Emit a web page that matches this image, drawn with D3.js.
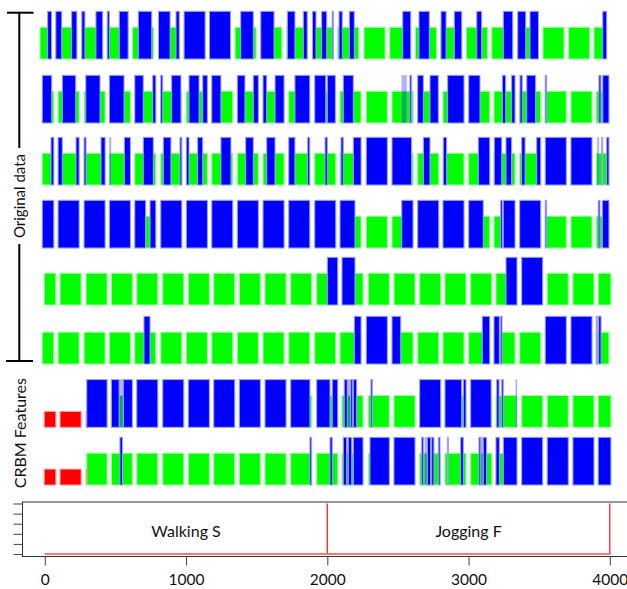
<!DOCTYPE html>
<html>
<head>
<meta charset="utf-8">
<script src="https://cdn.jsdelivr.net/npm/d3@7"></script>
<style>
  body { margin: 0; background: #fff; }
  text { font-family: Lato, "Open Sans", sans-serif; fill: #111; }
</style>
</head>
<body>
<svg id="chart" width="627" height="589"></svg>
<script>
// Recording windows in sample units (each row is the same window pattern, slightly shifted)
const windows = [[-4,78],[108,257],[292,441],[471,620],[651,800],[835,984],[1016,1165],[1196,1345],
  [1377,1526],[1559,1708],[1741,1890],[1925,2074],[2104,2253],[2290,2439],[2472,2621],[2654,2803],
  [2833,2982],[3015,3164],[3194,3343],[3376,3525],[3557,3706],[3739,3888],[3918,4008]];

// Per-row offset of the window pattern (samples)
const rowShift = [-30, -14, -14, -14, 0, -14, 0, 0];

// Row groups: six original data channels, two CRBM feature channels
const originalRows = [0, 1, 2, 3, 4, 5];
const featureRows = [6, 7];

// Spans where the state is at level 1 (red)
const redSpans = [[], [], [], [], [], [], [[-10,297]], [[-10,297]]];

// Spans where the state is at level 3 (blue); everything else inside a window is level 2 (green)
const blueSpans = [
  [[20,49],[77,120],[190,230],[261,284],[362,410],[442,457],[527,591],[662,757],[804,887],[929,952],
   [980,1140],[1165,1320],[1387,1476],[1529,1623],[1717,1771],[1830,1858],[1894,1920],[1960,1996],
   [2035,2047],[2083,2106],[2156,2191],[2534,2600],[2649,2722],[2805,2841],[2899,2960],[3058,3093],
   [3246,3315],[3348,3405],[3435,3499],[3950,3990]],
  [[-18,49],[124,219],[290,391],[457,561],[634,697],[764,790],[816,835],[898,964],[1021,1092],
   [1118,1151],[1182,1247],[1363,1417],[1476,1512],[1545,1571],[1630,1696],[1771,1880],[1911,1989],
   [2000,2057],[2113,2184],[2585,2597],[2637,2680],[2727,2786],[2852,2975],[3001,3081],
   [3239,3263],[3305,3329],[3364,3380],[3412,3475],[3543,3553],[3923,3937],[3950,3994]],
  [[44,64],[91,124],[221,243],[273,292],[398,427],[563,606],[697,768],[839,893],[957,970],
   [1002,1021],[1082,1118],[1247,1318],[1422,1476],[1571,1630],[1727,1771],[1861,1877],[1984,2000],
   [2097,2113],[2184,2239],[2270,2430],[2456,2597],[2680,2727],[2821,2845],[3069,3152],[3182,3235],
   [3265,3305],[3376,3400],[3482,3513],[3540,3700],[3720,3880],[3943,3950],[3978,3994]],
  [[-18,714],[745,2196],[2527,2610],[2630,2800],[2815,2975],[3001,3104],[3227,3239],[3246,3329],
   [3355,3520],[3543,3553],[3918,3930],[3947,3994]],
  [[2000,2074],[2104,2196],[3265,3345],[3376,3525]],
  [[702,745],[2191,2239],[2270,2430],[2449,2520],[3097,3150],[3175,3218],[3227,3237],[3540,3700],
   [3718,3880],[3900,3911],[3921,3938]],
  [[297,441],[469,526],[556,622],[640,1877],[1925,2019],[2035,2074],[2120,2141],[2166,2180],[2184,2208],
   [2309,2319],[2653,2803],[2833,2951],[2963,2985],[3015,3160],[3199,3216],[3235,3246]],
  [[532,550],[1877,1889],[2019,2035],[2113,2137],[2149,2173],[2184,2255],[2302,2439],[2470,2625],
   [2668,2680],[2708,2732],[2739,2755],[2786,2798],[2850,2857],[2944,2963],[3074,3086],[3104,3128],
   [3194,3218],[3246,4010]]
];

// Spans that flicker between levels 2 and 3 (drawn as a faint level-3 mark)
const mixedSpans = [
  [], [[2527,2562]], [[457,469],[3911,3923]], [], [], [],
  [[526,556],[2141,2166],[3334,3345]],
  [[2137,2149],[2690,2708],[3086,3104]]
];

// Activity label track
const xTicks = [0, 1000, 2000, 3000, 4000];
const yTicks = [1, 2, 3, 4, 5, 6];
const activities = [{ name: "Walking S", from: 0, to: 2000 }, { name: "Jogging F", from: 2000, to: 4000 }];
const labelTrace = [[0,1],[2000,1],[2000,6],[2000,1],[4000,1],[4000,6]];

// ---- layout ----
const rowBottom = [59, 123, 185, 248, 305, 364, 427.3, 485];
const levelHeight = 15.9;
const levelColor = { 1: "#ff0000", 2: "#00ff00", 3: "#0000ff" };
const haloColor = { 1: "#ff9a9a", 2: "#a0ffa0", 3: "#a0a0ff" };

const svg = d3.select("#chart");
const x = d3.scaleLinear().domain([0, 4000]).range([44.8, 609.8]);

function intersect(spans, wins) {
  const out = [];
  spans.forEach(([a, b]) => wins.forEach(([c, d]) => {
    const lo = Math.max(a, c), hi = Math.min(b, d);
    if (hi > lo) out.push([lo, hi]);
  }));
  return out;
}
function subtract(wins, spans) {
  const out = [];
  wins.forEach(([c, d]) => {
    let pieces = [[c, d]];
    spans.forEach(([a, b]) => {
      pieces = pieces.flatMap(([p, q]) => {
        const r = [];
        if (a > p) r.push([p, Math.min(q, a)]);
        if (b < q) r.push([Math.max(p, b), q]);
        return r.filter(([u, v]) => v > u);
      });
    });
    out.push(...pieces);
  });
  return out;
}

const rowsG = svg.append("g").attr("class", "rows");
blueSpans.forEach((blue, i) => {
  const bottom = rowBottom[i];
  const y = d3.scaleLinear().domain([0, 3]).range([bottom, bottom - 3 * levelHeight]);
  const wins = windows.map(([a, b]) => [a + rowShift[i], b + rowShift[i]]);
  const pieces = [
    ...subtract(wins, redSpans[i]).map(s => ({ s, level: 2, op: 1 })),
    ...intersect(redSpans[i], wins).map(s => ({ s, level: 1, op: 1 })),
    ...intersect(mixedSpans[i], wins).map(s => ({ s, level: 3, op: 0.3 })),
    ...intersect(blue, wins).map(s => ({ s, level: 3, op: 1 }))
  ];
  rowsG.append("g").selectAll("rect").data(pieces).join("rect")
    .attr("x", d => x(d.s[0]))
    .attr("width", d => Math.max(0.6, x(d.s[1]) - x(d.s[0])))
    .attr("y", d => y(d.level))
    .attr("height", d => bottom - y(d.level))
    .attr("fill", d => levelColor[d.level])
    .attr("fill-opacity", d => d.op)
    .attr("stroke", d => haloColor[d.level])
    .attr("stroke-opacity", d => d.op)
    .attr("stroke-width", 1);
});

// ---- side annotations ----
const side = svg.append("g");
const topY = 12.7, botY = 361, bx = 19.3;
const origMid = 196;
const origLabel = side.append("text")
  .attr("transform", `translate(${bx},${origMid}) rotate(-90)`)
  .attr("text-anchor", "middle").attr("dominant-baseline", "central")
  .attr("font-size", 15).text("Original data");
const half = origLabel.node().getComputedTextLength() / 2 + 6;
side.append("line").attr("x1", bx).attr("x2", bx).attr("y1", topY).attr("y2", origMid - half)
  .attr("stroke", "#000").attr("stroke-width", 2);
side.append("line").attr("x1", bx).attr("x2", bx).attr("y1", origMid + half).attr("y2", botY)
  .attr("stroke", "#000").attr("stroke-width", 2);
side.append("line").attr("x1", 7).attr("x2", 33.5).attr("y1", topY).attr("y2", topY)
  .attr("stroke", "#000").attr("stroke-width", 2);
side.append("line").attr("x1", 6).attr("x2", 33).attr("y1", botY).attr("y2", botY)
  .attr("stroke", "#000").attr("stroke-width", 2);
side.append("text")
  .attr("transform", `translate(${bx},${(rowBottom[featureRows[0]] - 48 + rowBottom[featureRows[1]]) / 2 + 1}) rotate(-90)`)
  .attr("text-anchor", "middle").attr("dominant-baseline", "central")
  .attr("font-size", 16).text("CRBM Features");

// ---- activity label panel ----
const boxTop = 502, boxBottom = 556.5, boxLeft = 22.5;
const yLab = d3.scaleLinear().domain([1, 6]).range([554, 503.5]);
const panel = svg.append("g");
panel.append("rect").attr("x", boxLeft).attr("y", boxTop).attr("width", 700).attr("height", boxBottom - boxTop)
  .attr("fill", "none").attr("stroke", "#333").attr("stroke-width", 1);

panel.append("path")
  .attr("d", d3.line().x(d => x(d[0])).y(d => yLab(d[1]))(labelTrace))
  .attr("fill", "none").attr("stroke", "#ff2020").attr("stroke-width", 1.3);
panel.append("line").attr("x1", x(0)).attr("x2", x(4000)).attr("y1", yLab(1)).attr("y2", yLab(1))
  .attr("stroke", "#ff8080").attr("stroke-width", 2.2).attr("stroke-opacity", 0.7);

panel.selectAll("text.act").data(activities).join("text").attr("class", "act")
  .attr("x", d => x((d.from + d.to) / 2)).attr("y", 530)
  .attr("text-anchor", "middle").attr("dominant-baseline", "central")
  .attr("font-size", 16).text(d => d.name);

const yAxis = panel.append("g").attr("transform", `translate(${boxLeft},0)`)
  .call(d3.axisLeft(yLab).tickValues(yTicks).tickFormat("").tickSize(9));
yAxis.select(".domain").remove();
yAxis.selectAll("line").attr("stroke", "#444");

const xAxis = panel.append("g").attr("transform", `translate(0,${boxBottom})`)
  .call(d3.axisBottom(x).tickValues(xTicks).tickFormat(d3.format("d")).tickSize(9).tickPadding(8));
xAxis.select(".domain").remove();
xAxis.selectAll("line").attr("stroke", "#444");
xAxis.selectAll("text").attr("font-size", 15.5).attr("font-family", "Lato, 'Open Sans', sans-serif").attr("fill", "#111");
</script>
</body>
</html>
